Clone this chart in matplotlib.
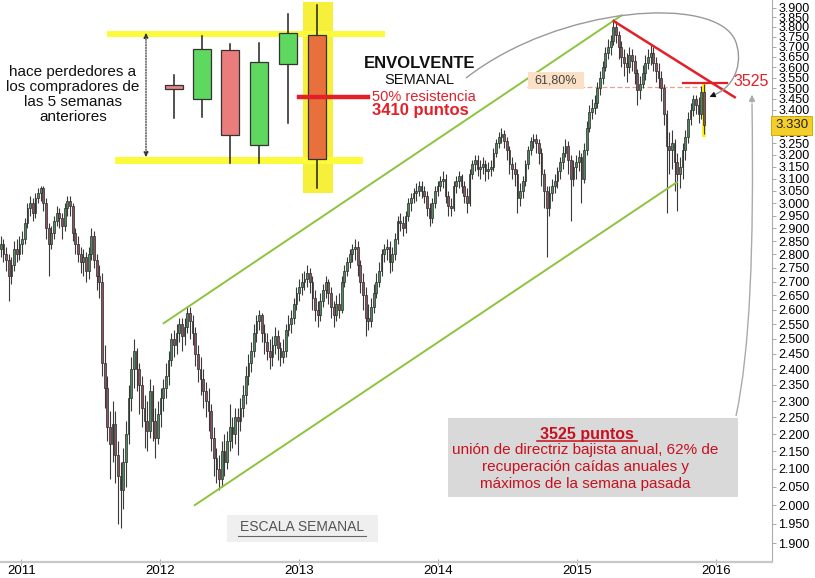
import numpy as np
import pandas as pd
import matplotlib
matplotlib.use('Agg')
import matplotlib.pyplot as plt
import matplotlib.dates as mdates
import matplotlib.transforms as mtransforms
from matplotlib.patches import Rectangle, PathPatch
from matplotlib.path import Path
from matplotlib.ticker import FixedLocator, NullLocator

plt.rcParams['font.family'] = ['Liberation Sans', 'DejaVu Sans']

# ---------------- data (index level in thousands of points, weekly) ----------------
first_week = '2010-11-08'
first_open = 2.82
close = [
    2.84, 2.80, 2.78, 2.72, 2.76, 2.82, 2.80, 2.84, 2.86, 2.92,
    2.98, 3.00, 2.96, 3.02, 3.04, 3.06, 3.00, 2.90, 2.84, 2.88,
    2.93, 2.96, 2.94, 2.91, 2.98, 3.01, 2.99, 2.88, 2.84, 2.80,
    2.77, 2.79, 2.74, 2.80, 2.87, 2.78, 2.72, 2.70, 2.42, 2.34,
    2.22, 2.17, 2.23, 2.14, 2.08, 2.04, 2.12, 2.20, 2.31, 2.40,
    2.46, 2.40, 2.35, 2.28, 2.24, 2.21, 2.33, 2.24, 2.19, 2.26,
    2.31, 2.34, 2.38, 2.43, 2.50, 2.48, 2.52, 2.55, 2.51, 2.54,
    2.59, 2.56, 2.52, 2.45, 2.40, 2.37, 2.33, 2.30, 2.27, 2.19,
    2.13, 2.10, 2.07, 2.15, 2.12, 2.18, 2.22, 2.20, 2.25, 2.24,
    2.28, 2.32, 2.38, 2.42, 2.46, 2.52, 2.56, 2.58, 2.52, 2.49,
    2.46, 2.44, 2.48, 2.51, 2.47, 2.44, 2.46, 2.53, 2.55, 2.57,
    2.62, 2.66, 2.68, 2.70, 2.71, 2.73, 2.70, 2.64, 2.60, 2.58,
    2.63, 2.67, 2.70, 2.66, 2.61, 2.58, 2.62, 2.60, 2.70, 2.74,
    2.77, 2.80, 2.82, 2.83, 2.76, 2.70, 2.65, 2.57, 2.56, 2.61,
    2.66, 2.70, 2.74, 2.80, 2.82, 2.83, 2.77, 2.80, 2.86, 2.93,
    2.92, 2.90, 2.95, 3.00, 3.02, 3.04, 3.05, 3.07, 3.05, 3.03,
    2.98, 2.94, 3.00, 3.05, 3.07, 3.09, 3.10, 3.03, 2.99, 2.98,
    3.07, 3.09, 3.11, 3.07, 3.03, 3.00, 3.12, 3.16, 3.18, 3.14,
    3.15, 3.16, 3.13, 3.14, 3.15, 3.21, 3.25, 3.28, 3.29, 3.26,
    3.22, 3.16, 3.14, 3.12, 3.02, 3.05, 3.09, 3.16, 3.22, 3.26,
    3.27, 3.25, 3.21, 3.12, 3.05, 2.98, 3.04, 3.07, 3.09, 3.13,
    3.17, 3.21, 3.24, 3.18, 3.10, 3.15, 3.17, 3.19, 3.10, 3.22,
    3.32, 3.39, 3.41, 3.43, 3.50, 3.55, 3.60, 3.67, 3.70, 3.73,
    3.80, 3.76, 3.70, 3.65, 3.62, 3.60, 3.66, 3.63, 3.57, 3.49,
    3.52, 3.57, 3.62, 3.65, 3.67, 3.62, 3.58, 3.55, 3.50, 3.38,
    3.24, 3.22, 3.25, 3.17, 3.12, 3.15, 3.22, 3.28, 3.36, 3.40,
    3.45, 3.42, 3.38, 3.48, 3.33,
]
high = [
    2.87, 2.86, 2.83, 2.80, 2.79, 2.85, 2.86, 2.87, 2.89, 2.94,
    3.00, 3.03, 3.02, 3.04, 3.06, 3.07, 3.07, 3.02, 2.92, 2.91,
    2.95, 2.99, 2.98, 2.96, 3.00, 3.03, 3.03, 3.00, 2.90, 2.87,
    2.83, 2.82, 2.81, 2.83, 2.90, 2.89, 2.80, 2.76, 2.73, 2.48,
    2.38, 2.27, 2.30, 2.27, 2.18, 2.12, 2.16, 2.24, 2.35, 2.44,
    2.50, 2.47, 2.42, 2.38, 2.32, 2.30, 2.37, 2.35, 2.28, 2.30,
    2.34, 2.37, 2.42, 2.46, 2.52, 2.53, 2.55, 2.57, 2.57, 2.57,
    2.61, 2.61, 2.58, 2.54, 2.48, 2.44, 2.40, 2.36, 2.34, 2.29,
    2.22, 2.16, 2.14, 2.18, 2.20, 2.21, 2.29, 2.25, 2.28, 2.28,
    2.31, 2.35, 2.41, 2.45, 2.49, 2.55, 2.58, 2.60, 2.59, 2.55,
    2.52, 2.50, 2.51, 2.54, 2.53, 2.49, 2.50, 2.55, 2.58, 2.60,
    2.64, 2.68, 2.71, 2.73, 2.74, 2.76, 2.75, 2.72, 2.67, 2.63,
    2.66, 2.69, 2.72, 2.71, 2.68, 2.63, 2.65, 2.66, 2.72, 2.76,
    2.79, 2.82, 2.84, 2.86, 2.85, 2.78, 2.73, 2.68, 2.62, 2.64,
    2.69, 2.73, 2.77, 2.82, 2.84, 2.86, 2.85, 2.83, 2.88, 2.95,
    2.96, 2.95, 2.97, 3.02, 3.04, 3.06, 3.08, 3.09, 3.09, 3.07,
    3.05, 3.00, 3.02, 3.07, 3.09, 3.11, 3.13, 3.12, 3.05, 3.02,
    3.09, 3.11, 3.13, 3.12, 3.09, 3.06, 3.14, 3.18, 3.20, 3.20,
    3.18, 3.19, 3.18, 3.17, 3.18, 3.23, 3.27, 3.30, 3.32, 3.31,
    3.28, 3.24, 3.19, 3.17, 3.14, 3.08, 3.11, 3.18, 3.24, 3.28,
    3.29, 3.29, 3.27, 3.23, 3.14, 3.07, 3.07, 3.10, 3.12, 3.15,
    3.19, 3.24, 3.27, 3.26, 3.20, 3.18, 3.20, 3.22, 3.21, 3.25,
    3.35, 3.42, 3.45, 3.47, 3.53, 3.58, 3.63, 3.70, 3.74, 3.76,
    3.84, 3.83, 3.78, 3.73, 3.69, 3.67, 3.70, 3.69, 3.66, 3.59,
    3.56, 3.61, 3.66, 3.69, 3.71, 3.70, 3.65, 3.62, 3.58, 3.52,
    3.40, 3.30, 3.31, 3.27, 3.21, 3.19, 3.25, 3.31, 3.39, 3.43,
    3.47, 3.47, 3.46, 3.51, 3.52,
]
low = [
    2.79, 2.77, 2.74, 2.63, 2.69, 2.74, 2.77, 2.78, 2.80, 2.84,
    2.90, 2.95, 2.93, 2.94, 3.00, 3.01, 2.97, 2.86, 2.72, 2.82,
    2.86, 2.91, 2.90, 2.86, 2.89, 2.95, 2.95, 2.85, 2.80, 2.77,
    2.73, 2.72, 2.70, 2.71, 2.78, 2.75, 2.67, 2.64, 2.38, 2.28,
    2.18, 2.07, 2.12, 2.06, 1.95, 1.94, 1.99, 2.05, 2.17, 2.27,
    2.34, 2.33, 2.26, 2.22, 2.16, 2.15, 2.19, 2.18, 2.13, 2.17,
    2.22, 2.27, 2.31, 2.35, 2.41, 2.44, 2.45, 2.49, 2.46, 2.48,
    2.52, 2.50, 2.48, 2.41, 2.36, 2.32, 2.28, 2.25, 2.21, 2.15,
    2.08, 2.06, 2.04, 2.05, 2.08, 2.10, 2.15, 2.16, 2.17, 2.14,
    2.21, 2.25, 2.29, 2.35, 2.39, 2.44, 2.49, 2.53, 2.49, 2.45,
    2.43, 2.40, 2.41, 2.45, 2.43, 2.41, 2.42, 2.44, 2.51, 2.52,
    2.55, 2.60, 2.63, 2.65, 2.67, 2.68, 2.66, 2.60, 2.56, 2.54,
    2.56, 2.61, 2.64, 2.62, 2.57, 2.54, 2.56, 2.57, 2.59, 2.68,
    2.72, 2.75, 2.77, 2.78, 2.72, 2.66, 2.60, 2.51, 2.53, 2.54,
    2.59, 2.64, 2.68, 2.72, 2.77, 2.78, 2.73, 2.74, 2.78, 2.84,
    2.89, 2.87, 2.88, 2.93, 2.97, 3.00, 3.01, 3.03, 3.02, 3.00,
    2.95, 2.91, 2.92, 2.98, 3.03, 3.05, 3.06, 3.00, 2.95, 2.95,
    2.97, 3.04, 3.06, 3.04, 3.00, 2.96, 2.99, 3.10, 3.13, 3.11,
    3.10, 3.12, 3.09, 3.10, 3.11, 3.13, 3.19, 3.23, 3.25, 3.23,
    3.18, 3.12, 3.10, 3.07, 2.96, 2.99, 3.02, 3.07, 3.14, 3.20,
    3.23, 3.21, 3.16, 3.07, 2.98, 2.79, 2.95, 3.01, 3.04, 3.06,
    3.10, 3.14, 3.19, 3.12, 2.93, 3.07, 3.10, 3.13, 3.00, 3.08,
    3.20, 3.30, 3.36, 3.38, 3.41, 3.47, 3.52, 3.58, 3.64, 3.66,
    3.71, 3.72, 3.64, 3.60, 3.56, 3.53, 3.57, 3.58, 3.52, 3.42,
    3.45, 3.50, 3.54, 3.59, 3.61, 3.58, 3.53, 3.50, 3.44, 3.33,
    2.96, 3.12, 3.14, 3.05, 2.97, 3.06, 3.10, 3.18, 3.25, 3.33,
    3.37, 3.38, 3.34, 3.36, 3.29,
]

year_labels = ['2011', '2012', '2013', '2014', '2015', '2016']
bold_levels = [2.0, 2.5, 3.0, 3.5]

# trend / reference lines: (date, level)
channel_upper = [('2012-01-10', 2.553), ('2015-04-28', 3.860)]
channel_lower = [('2012-04-01', 2.000), ('2015-09-20', 3.085)]
bear_line = [('2015-04-07', 3.830), ('2016-02-19', 3.458)]
level_3525 = (3.525, '2015-10-06', '2016-01-31')
fibo_618 = (3.505, '2014-08-22', '2015-12-03')

# illustrative "engulfing" sketch (screen-style units, y grows downward)
sketch_x = [174, 202, 230, 259, 288, 317]
sketch_open = [85, 99, 50, 145, 64, 35]
sketch_close = [89, 49, 135, 62, 33, 159]
sketch_high = [75, 36, 44, 43, 14, 5]
sketch_low = [118, 117, 163, 163, 123, 188]
sketch_colors = ['#e98585', '#5fd85f', '#ea7c7c', '#5fd85f', '#5fd85f', '#e8703c']

# ---------------- figure ----------------
W, H = 815, 578
fig = plt.figure(figsize=(W / 100, H / 100), dpi=100)
fig.patch.set_facecolor('white')
ax = fig.add_axes([0, 16 / H, 772 / W, 562 / H])

dates = pd.date_range(first_week, periods=len(close), freq='7D')
x = mdates.date2num(dates)
o = np.array([first_open] + close[:-1])
c = np.array(close)
h = np.array(high)
l = np.array(low)
up = c >= o

# highlight of the last candle
ax.bar(x[-1], h[-1] - l[-1] + 0.02, bottom=l[-1] - 0.01, width=9,
       color='#ffee22', zorder=1.5, linewidth=0)

ax.vlines(x, l, h, color='#3a3a3a', lw=0.8, zorder=2)
ax.bar(x[up], (c - o)[up], bottom=o[up], width=4.6, color='#4f8a5d',
       edgecolor='#2a2a2a', linewidth=0.5, zorder=3)
ax.bar(x[~up], (o - c)[~up], bottom=c[~up], width=4.6, color='#8a5560',
       edgecolor='#2a2a2a', linewidth=0.5, zorder=3)

def dn(s):
    return mdates.date2num(pd.Timestamp(s))

for seg in (channel_upper, channel_lower):
    ax.plot([dn(seg[0][0]), dn(seg[1][0])], [seg[0][1], seg[1][1]],
            color='#8cc43c', lw=1.4, zorder=4)
ax.plot([dn(bear_line[0][0]), dn(bear_line[1][0])],
        [bear_line[0][1], bear_line[1][1]], color='#e3202a', lw=1.8, zorder=5)
ax.plot([dn(level_3525[1]), dn(level_3525[2])], [level_3525[0]] * 2,
        color='#e3202a', lw=1.6, zorder=5)
ax.plot([dn(fibo_618[1]), dn(fibo_618[2])], [fibo_618[0]] * 2,
        color='#e8a090', lw=0.9, ls=(0, (4, 2)), zorder=1)

ax.set_yscale('log')
ax.set_ylim(1.853, 3.94)
ax.set_xlim(dn('2010-11-06'), dn('2016-05-27'))

levels = [round(1.90 + 0.05 * k, 2) for k in range(41)]
ax.yaxis.set_major_locator(FixedLocator(levels))
ax.yaxis.set_minor_locator(NullLocator())
ax.set_yticks(levels)
ax.set_yticklabels([f'{v:.3f}' for v in levels])
for lab, v in zip(ax.get_yticklabels(), levels):
    if any(abs(v - b) < 1e-6 for b in bold_levels):
        lab.set_fontweight('bold')
ax.yaxis.tick_right()
ax.tick_params(axis='y', which='major', direction='out', length=3, width=0.6,
               color='#999999', labelsize=9, pad=1.5)

ax.set_xticks([dn(f'{y}-01-01') for y in year_labels])
ax.set_xticklabels(year_labels)
ax.tick_params(axis='x', direction='inout', length=4, width=0.6, color='#999999',
               labelsize=9.5, pad=0.5)

for s in ('left', 'top'):
    ax.spines[s].set_visible(False)
ax.spines['right'].set_color('#aaaaaa')
ax.spines['right'].set_linewidth(0.8)
ax.spines['bottom'].set_color('#c8c8c8')
ax.spines['bottom'].set_linewidth(1.6)

# last price tag
trans = mtransforms.blended_transform_factory(ax.transAxes, ax.transData)
ax.text(1.004, c[-1], f'{c[-1]:.3f}', transform=trans, ha='left', va='center',
        fontsize=9.5, color='#222222', zorder=10, clip_on=False,
        bbox=dict(boxstyle='square,pad=0.28', fc='#f4cf2a', ec='#c9a400', lw=0.6))

# ---------------- overlay (annotations in screen-style coordinates) ----------------
ov = fig.add_axes([0, 0, 1, 1])
ov.set_xlim(0, W)
ov.set_ylim(H, 0)
ov.axis('off')
ov.patch.set_alpha(0)

# sketch
ov.add_patch(Rectangle((303, 2), 30, 191, color='#f6f03a', lw=0, zorder=1))
ov.add_patch(Rectangle((107, 31), 278, 6, color='#fbfb3c', lw=0, zorder=1))
ov.add_patch(Rectangle((115, 157), 248, 7, color='#fbfb3c', lw=0, zorder=1))
for xs, op, cl, hi, lo, col in zip(sketch_x, sketch_open, sketch_close,
                                   sketch_high, sketch_low, sketch_colors):
    ov.plot([xs, xs], [hi, lo], color='#222222', lw=1.1, zorder=2)
    ov.add_patch(Rectangle((xs - 9, min(op, cl)), 18, abs(op - cl), fc=col,
                           ec='#333333', lw=0.9, zorder=3))
ov.plot([299, 368], [97, 97], color='#e3202a', lw=3.2, zorder=4)
ov.annotate('', xy=(146, 30), xytext=(146, 160),
            arrowprops=dict(arrowstyle='<|-|>', color='#333333', lw=0.9,
                            ls=(0, (1, 1.2)), mutation_scale=7))
for txt, yy in zip(['hace perdedores a', 'los compradores de', 'las 5 semanas',
                    'anteriores'], [72, 87, 102, 117]):
    ov.text(73, yy, txt, ha='center', va='center', fontsize=11, color='#111111')

ov.text(420, 64, 'ENVOLVENTE', ha='center', va='center', fontsize=12,
        fontweight='bold', color='#111111')
ov.text(419, 80, 'SEMANAL', ha='center', va='center', fontsize=10.5, color='#111111')
ov.text(372, 97, '50% resistencia', ha='left', va='center', fontsize=10.5,
        color='#e3202a')
ov.text(372, 111, '3410 puntos', ha='left', va='center', fontsize=12,
        fontweight='bold', color='#e3202a')

# 61,80% tag
ov.add_patch(Rectangle((528, 72), 56, 17, fc='#fbe0c6', ec='none', zorder=1))
ov.text(556, 80.5, '61,80%', ha='center', va='center', fontsize=9, color='#444444')

# 3525 label
ov.text(733, 81, '3525', ha='left', va='center', fontsize=11.5, color='#e3202a')

# big curved arrow from "ENVOLVENTE SEMANAL" to last candle
verts = [(466, 78), (560, 5), (715, -5), (735, 40),
         (743, 58), (738, 85), (714, 95)]
codes = [Path.MOVETO, Path.CURVE4, Path.CURVE4, Path.CURVE4,
         Path.CURVE4, Path.CURVE4, Path.CURVE4]
ov.add_patch(PathPatch(Path(verts, codes), fc='none', ec='#999999', lw=1.0, zorder=5))
ov.annotate('', xy=(707, 98), xytext=(715, 94.5),
            arrowprops=dict(arrowstyle='-|>', color='#111111', lw=0.8,
                            mutation_scale=8), zorder=6)

# arrow from the note box to 3525
verts2 = [(736, 416), (750, 350), (754, 250), (752, 104)]
ov.add_patch(PathPatch(Path(verts2, [Path.MOVETO, Path.CURVE4, Path.CURVE4,
                                     Path.CURVE4]),
                       fc='none', ec='#aaaaaa', lw=1.0, zorder=5))
ov.annotate('', xy=(752, 92), xytext=(752, 106),
            arrowprops=dict(arrowstyle='-|>', color='#aaaaaa', lw=0.9,
                            mutation_scale=9), zorder=6)

# note box
ov.add_patch(Rectangle((448, 418), 290, 79, fc='#d9d9d9', ec='none', zorder=6))
ov.text(587, 434, '3525 puntos', ha='center', va='center', fontsize=11.5,
        fontweight='bold', color='#c8101e', zorder=7)
ov.plot([537, 637], [441, 441], color='#c8101e', lw=1.1, zorder=7)
for txt, yy in zip(['unión de directriz bajista anual, 62% de',
                    'recuperación caídas anuales y',
                    'máximos de la semana pasada'], [450, 467, 484]):
    ov.text(585, yy, txt, ha='center', va='center', fontsize=11,
            color='#c8101e', zorder=7)

# scale box
ov.add_patch(Rectangle((227, 515), 151, 27, fc='#efefef', ec='none', zorder=6))
ov.text(302, 527, 'ESCALA SEMANAL', ha='center', va='center', fontsize=10,
        color='#555555', zorder=7)
ov.plot([238, 366], [535.5, 535.5], color='#666666', lw=0.8, zorder=7)

fig.savefig('out.png', dpi=100, facecolor='white')
